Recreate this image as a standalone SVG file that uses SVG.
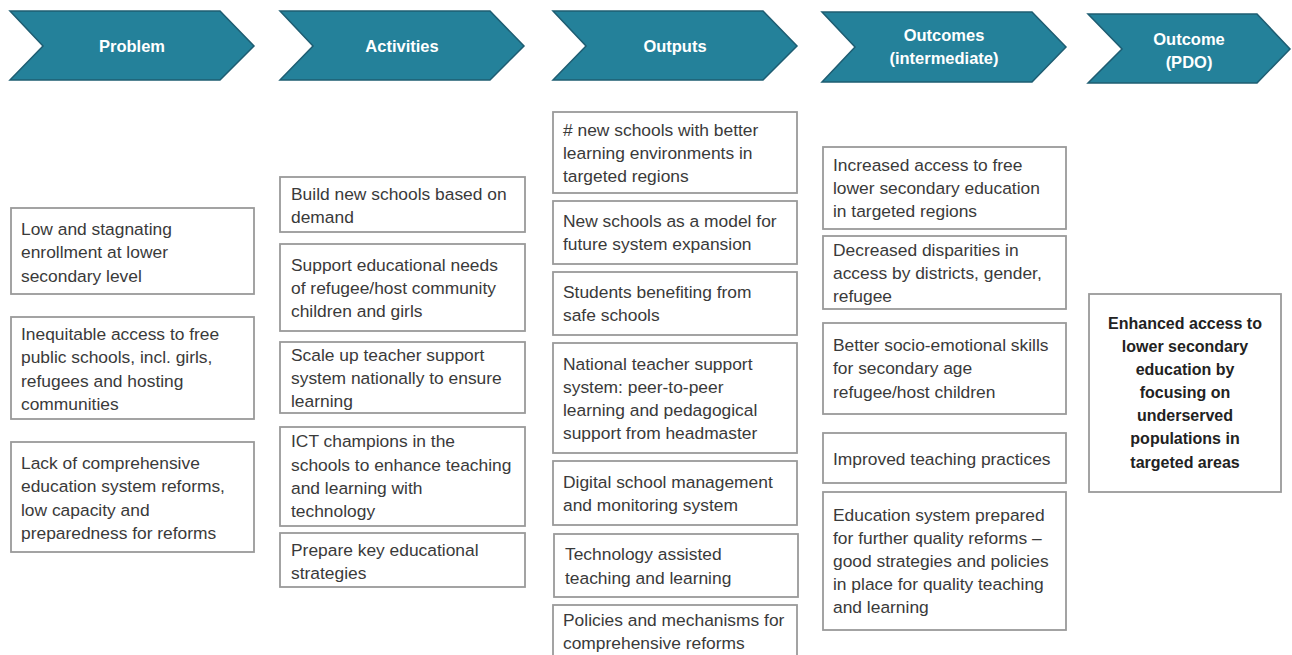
<svg xmlns="http://www.w3.org/2000/svg" width="1292" height="655" viewBox="0 0 1292 655">
  <style>
    .chev { fill: #24819a; stroke: #1e5d72; stroke-width: 1.5; }
    .hdr { font-family: "Liberation Sans", Arial, sans-serif; font-size: 16.5px; font-weight: bold; fill: #ffffff; text-anchor: middle; }
    .box { fill: #ffffff; stroke: #9a9a9a; stroke-width: 1.8; }
    .txt { font-family: "Liberation Sans", Arial, sans-serif; font-size: 17.4px; fill: #3a3a3a; }
    .pdo { font-family: "Liberation Sans", Arial, sans-serif; font-size: 16px; font-weight: bold; fill: #222222; text-anchor: middle; }
  </style>
  <rect width="1292" height="655" fill="#ffffff"/>

  <!-- Column headers -->
  <g id="hdr-problem">
    <path class="chev" d="M10,11 L220,11 L254,46 L220,80 L10,80 L43,46 Z"/>
    <text class="hdr" x="132" y="52">Problem</text>
  </g>
  <g id="hdr-activities">
    <path class="chev" d="M280,11 L490,11 L524,46 L490,80 L280,80 L313,46 Z"/>
    <text class="hdr" x="402" y="52">Activities</text>
  </g>
  <g id="hdr-outputs">
    <path class="chev" d="M553,11 L763,11 L797,46 L763,80 L553,80 L586,46 Z"/>
    <text class="hdr" x="675" y="52">Outputs</text>
  </g>
  <g id="hdr-outcomes">
    <path class="chev" d="M822,12 L1032,12 L1066,47 L1032,82 L822,82 L855,47 Z"/>
    <text class="hdr" x="944" y="41">Outcomes</text>
    <text class="hdr" x="944" y="64">(intermediate)</text>
  </g>
  <g id="hdr-pdo">
    <path class="chev" d="M1088,14 L1257,14 L1290,49 L1257,83 L1088,83 L1122,49 Z"/>
    <text class="hdr" x="1189" y="45">Outcome</text>
    <text class="hdr" x="1189" y="68">(PDO)</text>
  </g>

  <!-- Problem column -->
  <g id="problem-1">
    <rect class="box" x="11" y="208" width="243" height="86"/>
    <text class="txt" x="21" y="235">Low and stagnating</text>
    <text class="txt" x="21" y="258.3">enrollment at lower</text>
    <text class="txt" x="21" y="281.6">secondary level</text>
  </g>
  <g id="problem-2">
    <rect class="box" x="11" y="317" width="243" height="102"/>
    <text class="txt" x="21" y="340">Inequitable access to free</text>
    <text class="txt" x="21" y="363.3">public schools, incl. girls,</text>
    <text class="txt" x="21" y="386.6">refugees and hosting</text>
    <text class="txt" x="21" y="410">communities</text>
  </g>
  <g id="problem-3">
    <rect class="box" x="11" y="442" width="243" height="110"/>
    <text class="txt" x="21" y="469">Lack of comprehensive</text>
    <text class="txt" x="21" y="492.3">education system reforms,</text>
    <text class="txt" x="21" y="515.6">low capacity and</text>
    <text class="txt" x="21" y="539">preparedness for reforms</text>
  </g>

  <!-- Activities column -->
  <g id="activity-1">
    <rect class="box" x="280" y="177" width="245" height="55"/>
    <text class="txt" x="291" y="200">Build new schools based on</text>
    <text class="txt" x="291" y="223">demand</text>
  </g>
  <g id="activity-2">
    <rect class="box" x="280" y="244" width="245" height="87"/>
    <text class="txt" x="291" y="271">Support educational needs</text>
    <text class="txt" x="291" y="294">of refugee/host community</text>
    <text class="txt" x="291" y="317">children and girls</text>
  </g>
  <g id="activity-3">
    <rect class="box" x="280" y="342" width="245" height="71"/>
    <text class="txt" x="291" y="361">Scale up teacher support</text>
    <text class="txt" x="291" y="384">system nationally to ensure</text>
    <text class="txt" x="291" y="407">learning</text>
  </g>
  <g id="activity-4">
    <rect class="box" x="280" y="427" width="245" height="99"/>
    <text class="txt" x="291" y="447">ICT champions in the</text>
    <text class="txt" x="291" y="470.5">schools to enhance teaching</text>
    <text class="txt" x="291" y="494">and learning with</text>
    <text class="txt" x="291" y="517">technology</text>
  </g>
  <g id="activity-5">
    <rect class="box" x="280" y="533" width="245" height="54"/>
    <text class="txt" x="291" y="556">Prepare key educational</text>
    <text class="txt" x="291" y="579">strategies</text>
  </g>

  <!-- Outputs column -->
  <g id="output-1">
    <rect class="box" x="553" y="112" width="244" height="81"/>
    <text class="txt" x="563" y="136"># new schools with better</text>
    <text class="txt" x="563" y="159">learning environments in</text>
    <text class="txt" x="563" y="182">targeted regions</text>
  </g>
  <g id="output-2">
    <rect class="box" x="553" y="201" width="244" height="63"/>
    <text class="txt" x="563" y="227">New schools as a model for</text>
    <text class="txt" x="563" y="250">future system expansion</text>
  </g>
  <g id="output-3">
    <rect class="box" x="553" y="272" width="244" height="63"/>
    <text class="txt" x="563" y="298">Students benefiting from</text>
    <text class="txt" x="563" y="321">safe schools</text>
  </g>
  <g id="output-4">
    <rect class="box" x="553" y="343" width="244" height="110"/>
    <text class="txt" x="563" y="370">National teacher support</text>
    <text class="txt" x="563" y="393">system: peer-to-peer</text>
    <text class="txt" x="563" y="416">learning and pedagogical</text>
    <text class="txt" x="563" y="439">support from headmaster</text>
  </g>
  <g id="output-5">
    <rect class="box" x="553" y="461" width="244" height="64"/>
    <text class="txt" x="563" y="488">Digital school management</text>
    <text class="txt" x="563" y="511">and monitoring system</text>
  </g>
  <g id="output-6">
    <rect class="box" x="554" y="534" width="244" height="63"/>
    <text class="txt" x="565" y="560">Technology assisted</text>
    <text class="txt" x="565" y="584">teaching and learning</text>
  </g>
  <g id="output-7">
    <rect class="box" x="553" y="605" width="244" height="60"/>
    <text class="txt" x="563" y="626">Policies and mechanisms for</text>
    <text class="txt" x="563" y="649">comprehensive reforms</text>
  </g>

  <!-- Intermediate outcomes column -->
  <g id="outcome-1">
    <rect class="box" x="823" y="147" width="243" height="82"/>
    <text class="txt" x="833" y="171">Increased access to free</text>
    <text class="txt" x="833" y="194">lower secondary education</text>
    <text class="txt" x="833" y="217">in targeted regions</text>
  </g>
  <g id="outcome-2">
    <rect class="box" x="823" y="236" width="243" height="73"/>
    <text class="txt" x="833" y="256">Decreased disparities in</text>
    <text class="txt" x="833" y="279">access by districts, gender,</text>
    <text class="txt" x="833" y="302">refugee</text>
  </g>
  <g id="outcome-3">
    <rect class="box" x="823" y="323" width="243" height="91"/>
    <text class="txt" x="833" y="351">Better socio-emotional skills</text>
    <text class="txt" x="833" y="374">for secondary age</text>
    <text class="txt" x="833" y="398">refugee/host children</text>
  </g>
  <g id="outcome-4">
    <rect class="box" x="823" y="433" width="243" height="50"/>
    <text class="txt" x="833" y="465">Improved teaching practices</text>
  </g>
  <g id="outcome-5">
    <rect class="box" x="823" y="492" width="243" height="138"/>
    <text class="txt" x="833" y="521">Education system prepared</text>
    <text class="txt" x="833" y="544">for further quality reforms –</text>
    <text class="txt" x="833" y="567">good strategies and policies</text>
    <text class="txt" x="833" y="590">in place for quality teaching</text>
    <text class="txt" x="833" y="613">and learning</text>
  </g>

  <!-- Project development objective -->
  <g id="pdo">
    <rect class="box" x="1089" y="294" width="192" height="198"/>
    <text class="pdo" x="1185" y="329">Enhanced access to</text>
    <text class="pdo" x="1185" y="352">lower secondary</text>
    <text class="pdo" x="1185" y="375">education by</text>
    <text class="pdo" x="1185" y="398">focusing on</text>
    <text class="pdo" x="1185" y="421">underserved</text>
    <text class="pdo" x="1185" y="444">populations in</text>
    <text class="pdo" x="1185" y="468">targeted areas</text>
  </g>

  <!-- The columns are read left to right; no drawn connectors -->
  <g id="connectors"/>
</svg>
